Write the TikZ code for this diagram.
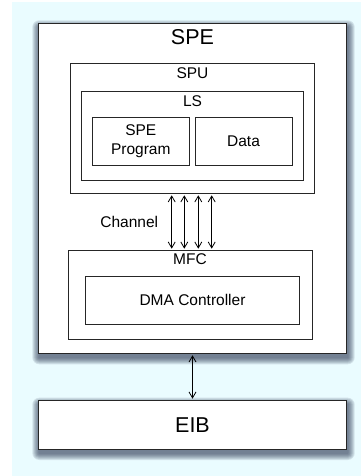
\documentclass[tikz,border=0pt]{standalone}
\usepackage{fontspec}
\setmainfont{Liberation Sans}
\usetikzlibrary{arrows.meta}
\definecolor{pagebg}{HTML}{EAFCFF}
\definecolor{shadowcol}{HTML}{2E3A55}
\definecolor{edgecol}{HTML}{262626}
\tikzset{
  box/.style={draw=edgecol, line width=0.9pt, fill=white, rectangle, inner sep=0pt},
  smalltext/.style={font=\fontsize{15.5}{19}\selectfont, inner sep=0pt},
  bigtext/.style={font=\fontsize{21.5}{24}\selectfont, inner sep=0pt},
  link/.style={draw=black, line width=0.8pt, {Straight Barb[length=6pt,width=7pt]}-{Straight Barb[length=6pt,width=7pt]}, shorten <=1.5pt, shorten >=1.5pt},
}
% soft shadow below a box: layered translucent rectangles
\newcommand{\softshadow}[4]{%
  \foreach \k in {7,6,...,1}{%
    \fill[shadowcol, opacity=0.13, rounded corners=\k pt]
      (#1-\k+1, #2-\k+4) rectangle (#3+\k+1, #4+\k+4);
  }%
}
\begin{document}
\begin{tikzpicture}[x=1pt, y=-1pt]
  \useasboundingbox (0,0) rectangle (361,476);
  \fill[white] (0,0) rectangle (361,476);
  \fill[pagebg] (12,2) rectangle (361,476);

  % shadows of the outer blocks
  \softshadow{38.3}{23.3}{346.7}{353.3}
  \softshadow{38.3}{400.7}{346.7}{449}

  % SPE block with its nested units
  \node[box, minimum width=308.4pt, minimum height=330pt] (SPE) at (192.5,188.3) {};
  \node[bigtext] (SPEl) at (192.5,37.3) {SPE};

  \node[box, minimum width=244.7pt, minimum height=129.6pt] (SPU) at (192.3,128.5) {};
  \node[smalltext] (SPUl) at (192.5,73.3) {SPU};

  \node[box, minimum width=221.6pt, minimum height=88.3pt] (LS) at (192.5,135.8) {};
  \node[smalltext] (LSl) at (192.5,101) {LS};

  \node[box, minimum width=97pt, minimum height=47.7pt, smalltext, align=center] (PROG) at (140.8,141.2) {SPE\\Program};
  \node[box, minimum width=97pt, minimum height=47.7pt, smalltext] (DATA) at (243.5,141.2) {Data};

  \node[box, minimum width=244.4pt, minimum height=88.3pt] (MFC) at (190.5,294.8) {};
  \node[smalltext] (MFCl) at (190,259.3) {MFC};

  \node[box, minimum width=213.6pt, minimum height=48pt, smalltext] (DMA) at (192.5,300) {DMA Controller};

  % channels between SPU and MFC
  \foreach \dx in {-20.6,-8,6,19.4}{
    \draw[link] ([xshift=\dx pt]SPU.south) -- ([xshift=\dx pt]SPU.south |- MFC.north);
  }
  \node[smalltext] (CH) at (129.3,221.7) {Channel};

  % element interconnect bus
  \node[box, minimum width=308.4pt, minimum height=48.3pt, bigtext] (EIB) at (192.5,424.8) {EIB};
  \draw[link] (SPE.south) -- (SPE.south |- EIB.north);
\end{tikzpicture}
\end{document}
